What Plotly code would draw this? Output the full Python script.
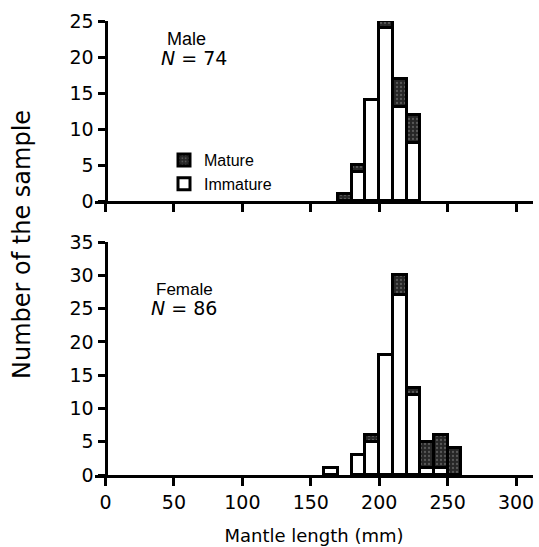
import plotly.graph_objects as go

# Male (N = 74)
male_bins = [170, 180, 190, 200, 210, 220]
male_immature = [0, 4, 14, 24, 13, 8]
male_mature = [1, 1, 0, 1, 4, 4]

# Female (N = 86)
female_bins = [160, 180, 190, 200, 210, 220, 230, 240, 250]
female_immature = [1, 3, 5, 18, 27, 12, 1, 1, 0]
female_mature = [0, 0, 1, 0, 3, 1, 4, 5, 4]

x_ticks = [0, 50, 100, 150, 200, 250, 300]
male_y_ticks = [0, 5, 10, 15, 20, 25]
female_y_ticks = [0, 5, 10, 15, 20, 25, 30, 35]

W, H = 539, 547
FONT = "Liberation Sans, Arial, sans-serif"
TFONT = "DejaVu Sans, sans-serif"

def px(x):
    return x / W

def py(y):
    return 1 - y / H

BIN_W = 10
LINE = dict(color="black", width=3)
mature_marker = dict(color="#262626", line=LINE,
                     pattern=dict(shape=".", fgcolor="#8a8a8a", bgcolor="#262626",
                                  size=4, solidity=0.25))
immature_marker = dict(color="white", line=LINE)

fig = go.Figure()
fig.add_trace(go.Bar(x=male_bins, y=male_immature, width=BIN_W, offset=0, name="Immature",
                     marker=immature_marker, xaxis="x", yaxis="y", showlegend=True))
fig.add_trace(go.Bar(x=male_bins, y=male_mature, width=BIN_W, offset=0, name="Mature",
                     marker=mature_marker, xaxis="x", yaxis="y", showlegend=True))
fig.add_trace(go.Bar(x=female_bins, y=female_immature, width=BIN_W, offset=0, name="Immature",
                     marker=immature_marker, xaxis="x2", yaxis="y2", showlegend=False))
fig.add_trace(go.Bar(x=female_bins, y=female_mature, width=BIN_W, offset=0, name="Mature",
                     marker=mature_marker, xaxis="x2", yaxis="y2", showlegend=False))

x_left, x_right = 95, 533
x0_px, x300_px = 105.5, 516
scale = (x300_px - x0_px) / 300
xr = [-(x0_px - x_left) / scale, 300 + (x_right - x300_px) / scale]

xcommon = dict(range=xr, domain=[px(x_left), px(x_right)], showline=True, linecolor="black",
               linewidth=3, ticks="outside", ticklen=8, tickwidth=3, tickcolor="black",
               tickvals=x_ticks, showgrid=False, zeroline=False, fixedrange=True,
               automargin=False,
               tickfont=dict(family=TFONT, size=19, color="black"))
ycommon = dict(showline=True, linecolor="black", linewidth=3, ticks="outside", ticklen=7,
               tickwidth=3, tickcolor="black", showgrid=False, zeroline=False,
               anchor="free", position=px(x0_px), automargin=False,
               tickfont=dict(family=TFONT, size=19, color="black"))

fig.update_layout(
    width=W, height=H, margin=dict(l=0, r=0, t=0, b=0),
    paper_bgcolor="white", plot_bgcolor="rgba(0,0,0,0)",
    barmode="stack", bargap=0,
    xaxis=dict(xcommon, anchor="y", showticklabels=False),
    yaxis=dict(ycommon, range=[0, 25], tickvals=male_y_ticks,
               domain=[py(201), py(21)]),
    xaxis2=dict(xcommon, anchor="y2", showticklabels=True,
                title=dict(text="Mantle length (mm)", standoff=18,
                           font=dict(family=TFONT, size=18, color="black"))),
    yaxis2=dict(ycommon, range=[0, 35], tickvals=female_y_ticks,
                domain=[py(475), py(242)]),
    legend=dict(x=px(164), y=py(143), xanchor="left", yanchor="top",
                traceorder="reversed", bgcolor="rgba(0,0,0,0)", itemwidth=30,
                tracegroupgap=0,
                font=dict(family=FONT, size=16, color="black")),
    showlegend=True,
    annotations=[
        dict(text="Male", x=px(165), y=py(39), xref="paper", yref="paper",
             xanchor="left", yanchor="middle", showarrow=False,
             font=dict(family=FONT, size=18, color="black")),
        dict(text="<i>N</i> = 74", x=px(159), y=py(58), xref="paper", yref="paper",
             xanchor="left", yanchor="middle", showarrow=False,
             font=dict(family=TFONT, size=19, color="black")),
        dict(text="Female", x=px(154), y=py(289), xref="paper", yref="paper",
             xanchor="left", yanchor="middle", showarrow=False,
             font=dict(family=FONT, size=17, color="black")),
        dict(text="<i>N</i> = 86", x=px(149), y=py(308), xref="paper", yref="paper",
             xanchor="left", yanchor="middle", showarrow=False,
             font=dict(family=TFONT, size=19, color="black")),
        dict(text="Number of the sample", x=px(22), y=py(245), xref="paper", yref="paper",
             xanchor="center", yanchor="middle", showarrow=False, textangle=-90,
             font=dict(family=TFONT, size=24, color="black")),
    ],
)

fig.write_html("out.html")
